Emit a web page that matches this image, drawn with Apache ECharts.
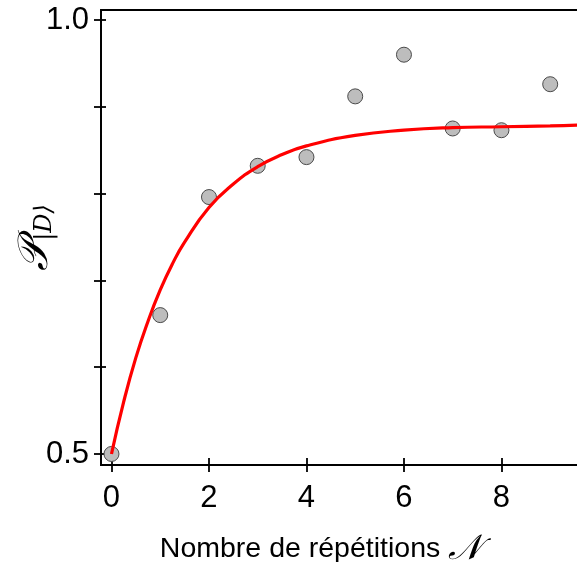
<!DOCTYPE html>
<html>
<head>
<meta charset="utf-8">
<script src="https://cdn.jsdelivr.net/npm/echarts@6/dist/echarts.min.js"></script>
<style>html,body{margin:0;padding:0;background:#fff}#c{width:577px;height:562px}</style>
</head>
<body>
<div id="c"></div>
<script>
// Measured points
var repetitions = [0, 1, 2, 3, 4, 5, 6, 7, 8, 9];
var probability = [0.500, 0.660, 0.796, 0.832, 0.842, 0.912, 0.960, 0.875, 0.873, 0.926];
// Fitted curve
var fitX = [0, 0.25, 0.5, 0.75, 1, 1.25, 1.5, 2, 2.5, 3, 3.5, 4, 5, 6, 7, 8, 9, 9.6];
var fitY = [0.500, 0.560, 0.611, 0.653, 0.689, 0.719, 0.744, 0.784, 0.811, 0.831, 0.845, 0.855, 0.867, 0.873, 0.876, 0.877, 0.878, 0.879];
// Ticks
var xTicks = [0, 2, 4, 6, 8];
var yTicks = [0.5, 0.6, 0.7, 0.8, 0.9, 1.0];
var yLabels = [0.5, 1.0];

var XMIN = -0.215, XMAX = 9.55, YMIN = 0.4873, YMAX = 1.0115;
var font = 'Liberation Sans, Arial, Helvetica, sans-serif';
var chart = echarts.init(document.getElementById('c'));
var lineStyle = {color: '#000', width: 1.8};
var gridRect = {left: 101, right: 0, top: 10, bottom: 97, containLabel: false, outerBoundsMode: 'none'};
chart.setOption({
  animation: false,
  backgroundColor: '#fff',
  grid: [gridRect, Object.assign({}, gridRect)],
  xAxis: [
    {type: 'value', gridIndex: 0, min: XMIN, max: XMAX, position: 'bottom',
     axisLine: {show: true, onZero: false, lineStyle: lineStyle},
     axisTick: {show: true, inside: false, length: 7, lineStyle: lineStyle, customValues: xTicks},
     axisLabel: {show: true, customValues: xTicks, margin: 18, fontSize: 31, color: '#000', fontFamily: font},
     splitLine: {show: false},
     name: '{t|Nombre de répétitions }{n|𝒩}', nameLocation: 'middle', nameGap: 67, nameMoveOverlap: false,
     nameTextStyle: {padding: [0, 36, 0, 0], rich: {
       t: {fontSize: 28.5, fontFamily: font, color: '#000'},
       n: {fontSize: 35, fontFamily: 'DejaVu Serif, serif', fontStyle: 'italic', color: '#000'}
     }}},
    {type: 'value', gridIndex: 0, min: XMIN, max: XMAX, position: 'top',
     axisLine: {show: true, onZero: false, lineStyle: lineStyle}, axisTick: {show: false}, axisLabel: {show: false}, splitLine: {show: false}},
    {type: 'value', gridIndex: 1, min: XMIN, max: XMAX, position: 'bottom',
     axisLine: {show: true, onZero: false, lineStyle: {color: '#000', width: 1.8}},
     axisTick: {show: true, inside: true, length: 7, lineStyle: lineStyle, customValues: xTicks},
     axisLabel: {show: true, color: 'rgba(0,0,0,0)', customValues: xTicks}, splitLine: {show: false}}
  ],
  yAxis: [
    {type: 'value', gridIndex: 0, min: YMIN, max: YMAX, position: 'left',
     axisLine: {show: true, onZero: false, lineStyle: lineStyle},
     axisTick: {show: true, inside: false, length: 7, lineStyle: lineStyle, customValues: yTicks},
     axisLabel: {show: true, customValues: yLabels, margin: 12, fontSize: 31, color: '#000', fontFamily: font,
       formatter: function (v) { return v.toFixed(1); }},
     splitLine: {show: false},
     name: '{p|𝒫}{s|\u007CD\u27E9}', nameLocation: 'middle', nameGap: 44, nameRotate: 90, nameMoveOverlap: false,
     nameTextStyle: {rich: {
       p: {fontSize: 42, fontFamily: 'DejaVu Serif, serif', fontStyle: 'italic', color: '#000', verticalAlign: 'bottom'},
       s: {fontSize: 24, fontFamily: 'DejaVu Serif, serif', fontStyle: 'italic', color: '#000', verticalAlign: 'bottom', padding: [14, 0, 0, 0]}
     }}},
    {type: 'value', gridIndex: 1, min: YMIN, max: YMAX, position: 'left',
     axisLine: {show: true, onZero: false, lineStyle: {color: '#000', width: 1.8}},
     axisTick: {show: true, inside: true, length: 5, lineStyle: lineStyle, customValues: yTicks},
     axisLabel: {show: true, color: 'rgba(0,0,0,0)', customValues: yLabels}, splitLine: {show: false}}
  ],
  series: [
    {type: 'line', xAxisIndex: 0, yAxisIndex: 0, smooth: true, symbol: 'none',
     lineStyle: {color: '#ff0000', width: 3.2},
     data: fitX.map(function (x, i) { return [x, fitY[i]]; }), z: 3},
    {type: 'scatter', xAxisIndex: 0, yAxisIndex: 0, symbolSize: 15,
     itemStyle: {color: '#bdbdbd', borderColor: '#4a4a4a', borderWidth: 1, opacity: 1},
     data: repetitions.map(function (x, i) { return [x, probability[i]]; }), z: 2},
    {type: 'scatter', xAxisIndex: 2, yAxisIndex: 1, data: [], silent: true}
  ]
});
</script>
</body>
</html>
